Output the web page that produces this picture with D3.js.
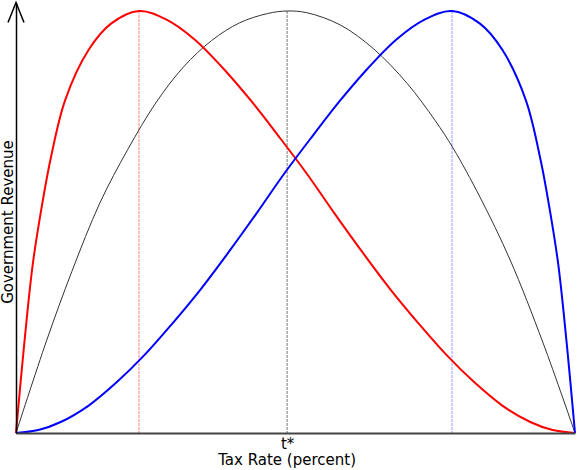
<!DOCTYPE html>
<html>
<head>
<meta charset="utf-8">
<script src="https://cdn.jsdelivr.net/npm/d3@7"></script>
<style>
  html, body { margin: 0; padding: 0; background: #fff; }
  svg { display: block; font-family: "DejaVu Sans", sans-serif; }
</style>
</head>
<body>
<div id="chart"></div>
<script>
// Laffer curve — three revenue curves vs tax rate (percent)
// values, tax rate 0..100, revenue 0..100 (peak)

const blackRate = [0, 5.5, 10, 15, 20, 25, 30, 35, 40, 45, 48.5, 52, 58, 64, 70, 75, 78.2, 83, 88.4, 94.3, 100];
const blackRev  = [0, 22, 38.3, 54.5, 67.2, 78.2, 86.8, 93.0, 97.2, 99.4, 100, 99.6, 96.7, 91.0, 82.8, 74.0, 67.5, 55.9, 41.0, 21.3, 0];

const redRate = [0, 1.5, 3, 4.5, 6.2, 8.8, 13, 17, 22, 27, 32, 37, 42, 47, 52, 57, 62, 67, 72, 77, 82, 87, 92, 96, 100];
const redRev  = [0, 21.5, 40, 52.8, 65, 78.9, 90.8, 97.0, 100, 97.9, 93.2, 86.5, 78.8, 70.3, 61.5, 52.0, 42.8, 34.0, 26, 18.5, 12, 6.5, 2.6, 0.7, 0];

const blueRate = [0, 4, 8, 13, 18, 23, 28, 33, 38, 43, 48, 53, 58, 63, 68, 73, 78, 83, 87, 91.2, 93.8, 95.5, 97, 98.5, 100];
const blueRev  = [0, 0.7, 2.6, 6.5, 12, 18.5, 26, 34.0, 42.8, 52.0, 61.5, 70.3, 78.8, 86.5, 93.2, 97.9, 100, 97.0, 90.8, 78.9, 65, 52.8, 40, 21.5, 0];

// peak tax rates (dashed guides) and axis labels
const peakRates = [22.0, 48.5, 78.0];
const peakNames = ["red", "black", "blue"];
const xTickValues = [48.5];
const xTickLabels = ["t*"];
const xLabel = "Tax Rate (percent)";
const yLabel = "Government Revenue";

const width = 577, height = 470;
const svg = d3.select("#chart").append("svg")
  .attr("width", width).attr("height", height);

const x = d3.scaleLinear().domain([0, 100]).range([16, 575]);
const y = d3.scaleLinear().domain([0, 100]).range([433, 11]);

const styles = {
  red:   { line: "#ff0000", width: 2, guide: "#ff8080" },
  black: { line: "#333333", width: 1, guide: "#777777" },
  blue:  { line: "#0000ff", width: 2, guide: "#9999ff" }
};

const zip = (a, b) => a.map((v, i) => [v, b[i]]);
const series = [
  { name: "black", pts: zip(blackRate, blackRev) },
  { name: "red",   pts: zip(redRate, redRev) },
  { name: "blue",  pts: zip(blueRate, blueRev) }
];

// dashed guides from the peak down to the axis
svg.selectAll("line.guide").data(peakRates).join("line")
  .attr("class", "guide")
  .attr("x1", d => x(d)).attr("x2", d => x(d))
  .attr("y1", y(100)).attr("y2", y(0))
  .attr("stroke", (d, i) => styles[peakNames[i]].guide)
  .attr("stroke-width", 1)
  .attr("stroke-dasharray", "3 1");

const line = d3.line()
  .x(d => x(d[0]))
  .y(d => y(d[1]))
  .curve(d3.curveCatmullRom.alpha(0.5));

svg.selectAll("path.curve").data(series).join("path")
  .attr("class", "curve")
  .attr("d", d => line(d.pts))
  .attr("fill", "none")
  .attr("stroke", d => styles[d.name].line)
  .attr("stroke-width", d => styles[d.name].width);

// x axis
const xAxisG = svg.append("g").attr("transform", `translate(0,${y(0)})`)
  .call(d3.axisBottom(x)
    .tickValues(xTickValues)
    .tickFormat((d, i) => xTickLabels[i])
    .tickSize(0).tickSizeOuter(0).tickPadding(5));
xAxisG.select(".domain").attr("stroke", "#444").attr("stroke-width", 2);
xAxisG.selectAll("text")
  .attr("font-family", "DejaVu Sans, sans-serif")
  .attr("font-size", 15).attr("fill", "#000");

// y axis (extends a bit past the top for the arrow)
const yA = d3.scaleLinear().domain([0, 102]).range([y(0), y(102)]);
const yAxisG = svg.append("g").attr("transform", `translate(${x(0)},0)`)
  .call(d3.axisLeft(yA).tickValues([]).tickSizeOuter(0));
yAxisG.select(".domain").attr("stroke", "#000").attr("stroke-width", 1.5);

// arrow head
svg.append("path")
  .attr("d", `M${x(0) - 8},${y(102) + 20} L${x(0)},${y(102)} L${x(0) + 8},${y(102) + 20}`)
  .attr("fill", "none").attr("stroke", "#000").attr("stroke-width", 1.5);

// axis titles
svg.append("text")
  .attr("x", x(48.5)).attr("y", 465)
  .attr("text-anchor", "middle")
  .attr("font-size", 15)
  .text(xLabel);

svg.append("text")
  .attr("transform", `translate(13,${y(50)}) rotate(-90)`)
  .attr("text-anchor", "middle")
  .attr("font-size", 15)
  .text(yLabel);
</script>
</body>
</html>
